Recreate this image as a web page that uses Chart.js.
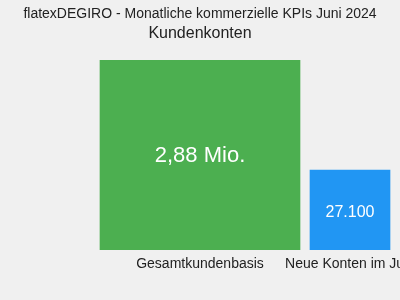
<!DOCTYPE html>
<html>
<head>
<meta charset="utf-8">
<script src="https://cdn.jsdelivr.net/npm/chart.js@4/dist/chart.umd.min.js"></script>
<style>
  html, body { margin: 0; padding: 0; background: #f0f0f0; }
  #wrap { width: 400px; height: 300px; position: relative; }
</style>
</head>
<body>
<div id="wrap"><canvas id="kpiChart"></canvas></div>
<script>
// Data
const categories = ['Gesamtkundenbasis', 'Neue Konten im Juni'];
const values = [2880000, 27100];
const valueLabels = ['2,88 Mio.', '27.100'];
const xCenters = [2, 3.5];
const barColors = ['#4CAF50', '#2196F3'];
const barWidths = [200, 80];

const FONT = "'Liberation Sans', Arial, sans-serif";

// Value text inside each bar
const barLabels = {
  id: 'barLabels',
  afterDatasetsDraw(chart) {
    const ctx = chart.ctx;
    const sizes = [22, 16];
    const nudge = [1, 3];
    ctx.save();
    ctx.fillStyle = '#ffffff';
    ctx.textAlign = 'center';
    ctx.textBaseline = 'middle';
    chart.data.datasets.forEach((ds, i) => {
      const bar = chart.getDatasetMeta(i).data[0];
      if (!bar) return;
      ctx.font = sizes[i] + 'px ' + FONT;
      ctx.fillText(valueLabels[i], bar.x, (bar.y + bar.base) / 2 + nudge[i]);
    });
    ctx.restore();
  }
};

function initChart() {
  const ctx = document.getElementById('kpiChart').getContext('2d');
  new Chart(ctx, {
    type: 'bar',
    data: {
      datasets: categories.map((c, i) => ({
        label: c,
        data: [{ x: xCenters[i], y: values[i] }],
        backgroundColor: barColors[i],
        borderWidth: 0,
        barThickness: barWidths[i],
        grouped: false
      }))
    },
    options: {
      responsive: true,
      maintainAspectRatio: false,
      animation: false,
      layout: {
        autoPadding: false,
        padding: 0
      },
      plugins: {
        legend: { display: false },
        tooltip: { enabled: false },
        title: {
          display: true,
          text: 'flatexDEGIRO - Monatliche kommerzielle KPIs Juni 2024',
          color: '#222',
          font: { family: FONT, size: 14, weight: 'normal' },
          padding: { top: 6, bottom: 0 }
        },
        subtitle: {
          display: true,
          text: 'Kundenkonten',
          color: '#222',
          font: { family: FONT, size: 16, weight: 'normal' },
          padding: { top: 1, bottom: 17 }
        }
      },
      scales: {
        x: {
          type: 'linear',
          offset: false,
          min: 0,
          max: 4,
          grid: { display: false, drawTicks: false },
          border: { display: false },
          afterBuildTicks: (axis) => {
            axis.ticks = xCenters.map(v => ({ value: v }));
          },
          // keep the plot area full width; the last label is cut by the canvas edge
          afterFit: (axis) => {
            axis.paddingLeft = 0;
            axis.paddingRight = 0;
            axis.height = 50;
          },
          ticks: {
            autoSkip: false,
            maxRotation: 0,
            padding: 6,
            color: '#222',
            font: { family: FONT, size: 14 },
            callback: (value, index) => categories[index]
          }
        },
        y: {
          type: 'logarithmic',
          display: false,
          min: 911,
          max: 2880000
        }
      }
    },
    plugins: [barLabels]
  });
}

document.addEventListener('DOMContentLoaded', initChart);
</script>
</body>
</html>
